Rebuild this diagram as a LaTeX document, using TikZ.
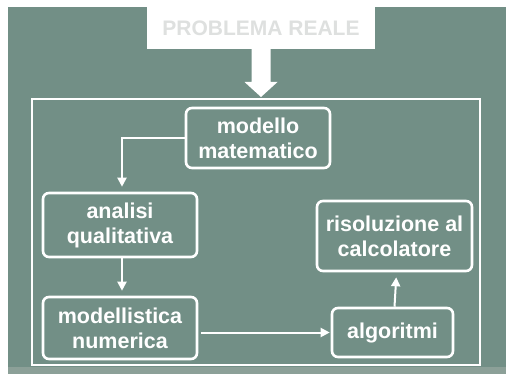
\documentclass[tikz,border=0pt]{standalone}
\usepackage{fontspec}
\setmainfont{Liberation Sans}
\usetikzlibrary{arrows.meta,calc}
\definecolor{panel}{RGB}{114,143,134}
\definecolor{panellow}{RGB}{140,160,152}
\definecolor{titleink}{RGB}{222,224,223}
\tikzset{
  stepbox/.style={draw=white, line width=2.6pt, rounded corners=6pt, fill=panel,
    text=white, align=center, inner sep=2pt,
    font=\fontsize{21.5}{25}\selectfont\bfseries},
  conn/.style={draw=white, line width=2pt,
    -{Triangle[length=9pt,width=9pt]}, shorten >=5pt},
  frame/.style={draw=white, line width=2pt, fill=none},
}
\begin{document}
\begin{tikzpicture}[x=1pt,y=-1pt]
\useasboundingbox (0,0) rectangle (506,374);
% backdrop
\fill[white] (0,0) rectangle (506,374);
\fill[panel] (8,7) rectangle (506,367);
\fill[panellow] (8,367) rectangle (506,374);

% title banner
\node[fill=white, minimum width=228pt, minimum height=42pt, inner sep=0pt,
      text=titleink, font=\fontsize{21}{21}\selectfont\bfseries]
  (title) at (261,28) {PROBLEMA REALE};

% enclosing frame
\node[frame, minimum width=448pt, minimum height=266pt, inner sep=0pt]
  (frame) at (256,232) {};

% big block arrow from the banner down to the frame
\coordinate (tip) at (title.south |- frame.north);
\fill[white] ($(title.south)+(-9.5,0)$) -- ($(title.south)+(9.5,0)$)
  -- ($(tip)+(9.5,-16)$) -- ($(tip)+(16.5,-16)$) -- ($(tip)+(0,-1)$)
  -- ($(tip)+(-16.5,-16)$) -- ($(tip)+(-9.5,-16)$) -- cycle;

% steps
\node[stepbox, minimum width=144pt, minimum height=60pt] (modello) at (258,138)
  {modello\\matematico};
\node[stepbox, minimum width=154pt, minimum height=64pt] (analisi) at (120,225)
  {analisi\\qualitativa};
\node[stepbox, minimum width=154pt, minimum height=62pt] (numerica) at (120,328)
  {modellistica\\numerica};
\node[stepbox, minimum width=155pt, minimum height=70pt] (calcolo) at (394.5,236)
  {risoluzione al\\calcolatore};
\node[stepbox, minimum width=121pt, minimum height=49pt] (algoritmi) at (392.5,332.5)
  {algoritmi};

% connectors
\draw[conn] (modello.west) -| ([xshift=2pt]analisi.north);
\draw[conn] ([xshift=2pt]analisi.south) -- ([xshift=2pt]numerica.north);
\draw[conn, shorten <=3pt, shorten >=1pt] (numerica.east |- algoritmi.west) -- (algoritmi.west);
\draw[conn] ([xshift=2pt]algoritmi.north) -- ([xshift=2pt]calcolo.south);
\end{tikzpicture}
\end{document}
